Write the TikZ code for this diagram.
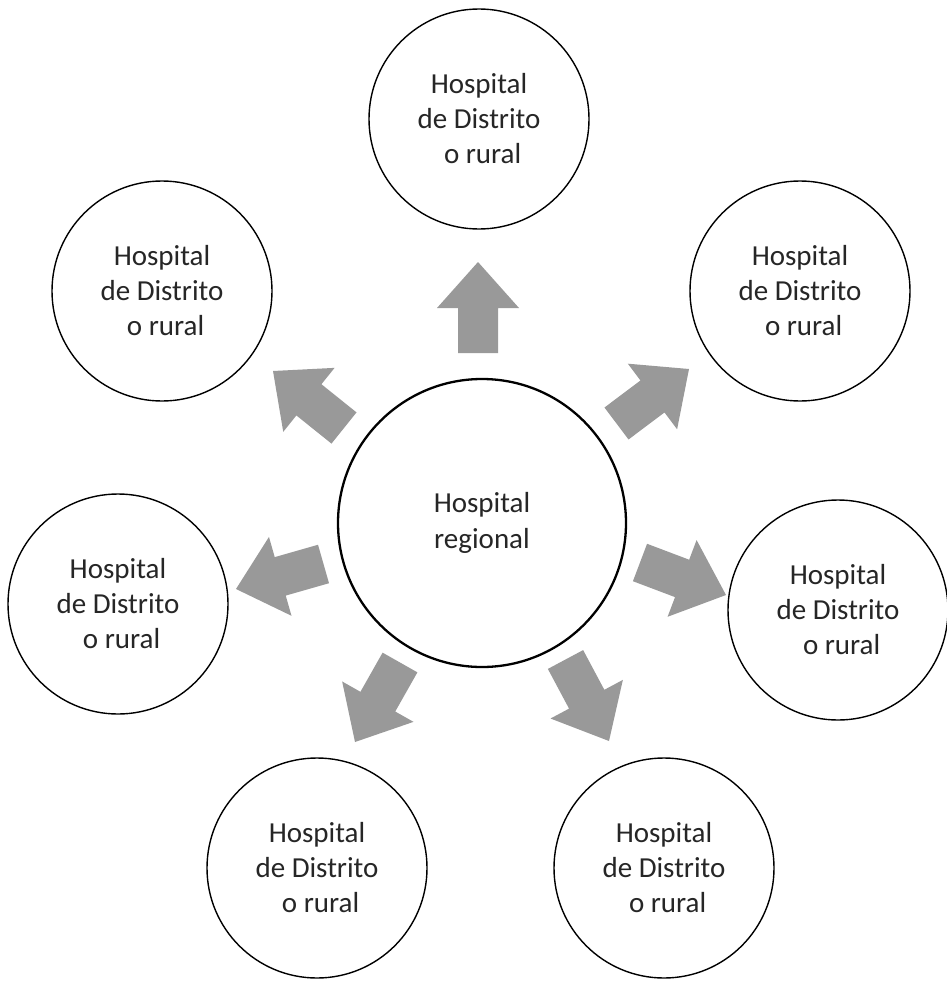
\documentclass[tikz,border=0pt]{standalone}
\usepackage{fontspec}
\setmainfont{Carlito}
\usetikzlibrary{calc}
\definecolor{arrgray}{HTML}{999999}
\definecolor{txtgray}{HTML}{262626}
\tikzset{
  outer/.style={circle, draw=black, line width=1.4pt, minimum size=220pt, inner sep=0pt, align=center,
    text=txtgray, font=\fontsize{29}{35}\selectfont},
  hub/.style={circle, draw=black, line width=2.3pt, minimum size=288pt, inner sep=0pt, align=center,
    text=txtgray, font=\fontsize{29}{36}\selectfont},
  arrfill/.style={fill=arrgray}
}
\newcommand\blockarr[2]{%
  \coordinate (#1-b) at ($(#1)!45pt!(#2)$);
  \fill[arrfill] ($(#1)!20pt!90:(#2)$) -- ($(#1-b)!20pt!90:(#2)$) -- ($(#1-b)!41pt!90:(#2)$) -- (#2)
    -- ($(#1-b)!41pt!-90:(#2)$) -- ($(#1-b)!20pt!-90:(#2)$) -- ($(#1)!20pt!-90:(#2)$) -- cycle;}
\begin{document}
\begin{tikzpicture}[x=1pt,y=-1pt]
\useasboundingbox[fill=white] (0,0) rectangle (947,982);
\node[hub] (hub) at (482,523) {Hospital\\regional};
\node[outer] (top) at (479,119) {Hospital\\de Distrito\\\hspace*{0.25em}o rural};
\node[outer] (tl) at (162,291) {Hospital\\de Distrito\\\hspace*{0.25em}o rural};
\node[outer] (tr) at (800,291) {Hospital\\de Distrito\\\hspace*{0.25em}o rural};
\node[outer] (l) at (118,604) {Hospital\\de Distrito\\\hspace*{0.25em}o rural};
\node[outer] (r) at (838,610) {Hospital\\de Distrito\\\hspace*{0.25em}o rural};
\node[outer] (bl) at (317,868) {Hospital\\de Distrito\\\hspace*{0.25em}o rural};
\node[outer] (br) at (664,868) {Hospital\\de Distrito\\\hspace*{0.25em}o rural};
% arrows: tail and tip coordinates
\coordinate (t1) at (478,353);   \coordinate (h1) at (478,262);
\coordinate (t2) at (344,428);   \coordinate (h2) at (273,371);
\coordinate (t3) at (616.5,423.5); \coordinate (h3) at (689,369);
\coordinate (t4) at (323.5,564); \coordinate (h4) at (236,589);
\coordinate (t5) at (640,562.5); \coordinate (h5) at (726,595);
\coordinate (t6) at (400,662.5); \coordinate (h6) at (355,742);
\coordinate (t7) at (565.5,659.5); \coordinate (h7) at (609,741);
\blockarr{t1}{h1}
\blockarr{t2}{h2}
\blockarr{t3}{h3}
\blockarr{t4}{h4}
\blockarr{t5}{h5}
\blockarr{t6}{h6}
\blockarr{t7}{h7}
\end{tikzpicture}
\end{document}
